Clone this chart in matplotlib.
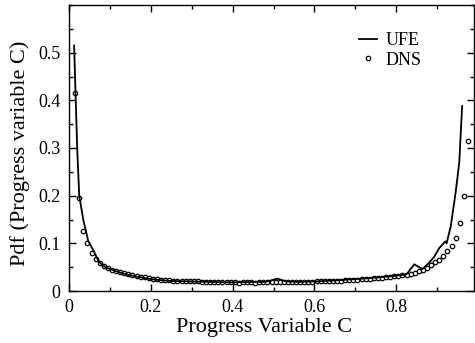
import numpy as np
import matplotlib
matplotlib.use("Agg")
import matplotlib.pyplot as plt
from matplotlib.ticker import MultipleLocator, FuncFormatter

plt.rcParams['font.family'] = ['Liberation Serif', 'DejaVu Serif']
plt.rcParams['mathtext.fontset'] = 'stix'

# UFE model curve
ufe_c = [0.0125, 0.02, 0.025, 0.035, 0.047, 0.059, 0.071, 0.08, 0.09, 0.10,
         0.12, 0.14, 0.16, 0.18, 0.20, 0.22, 0.25, 0.30, 0.35, 0.40,
         0.45, 0.48, 0.51, 0.53, 0.56, 0.60, 0.65, 0.70, 0.75, 0.80,
         0.825, 0.844, 0.864, 0.88, 0.893, 0.905, 0.92, 0.923, 0.933, 0.945,
         0.954, 0.961]
ufe_pdf = [0.515, 0.30, 0.20, 0.149, 0.105, 0.086, 0.065, 0.055, 0.050, 0.046,
           0.040, 0.035, 0.031, 0.028, 0.025, 0.023, 0.021, 0.020, 0.019, 0.018,
           0.019, 0.019, 0.026, 0.020, 0.019, 0.020, 0.022, 0.025, 0.028, 0.032,
           0.035, 0.056, 0.046, 0.059, 0.072, 0.090, 0.104, 0.100, 0.135, 0.206,
           0.270, 0.388]

# DNS samples (bin centres 0.015 ... 0.975)
dns_c = np.round(np.arange(0.015, 0.9751, 0.01), 3)
dns_pdf = [0.415, 0.196, 0.126, 0.100, 0.079, 0.067, 0.058, 0.052, 0.048, 0.045,
           0.042, 0.040, 0.037, 0.035, 0.033, 0.031, 0.030, 0.029, 0.028, 0.026,
           0.025, 0.024, 0.024, 0.023, 0.022, 0.022, 0.021, 0.021, 0.020, 0.020,
           0.020, 0.019, 0.019, 0.019, 0.018, 0.019, 0.018, 0.018, 0.018, 0.018,
           0.017, 0.018, 0.018, 0.018, 0.017, 0.018, 0.018, 0.018, 0.018, 0.019,
           0.018, 0.018, 0.018, 0.019, 0.018, 0.019, 0.019, 0.019, 0.019, 0.020,
           0.020, 0.020, 0.021, 0.021, 0.022, 0.022, 0.023, 0.023, 0.024, 0.024,
           0.025, 0.025, 0.026, 0.027, 0.027, 0.028, 0.029, 0.030, 0.031, 0.032,
           0.033, 0.034, 0.036, 0.038, 0.041, 0.044, 0.049, 0.055, 0.060, 0.066,
           0.073, 0.083, 0.094, 0.112, 0.143, 0.200, 0.314]

fig = plt.figure(figsize=(4.75, 3.43), dpi=100)
ax = fig.add_axes([69/475, 1 - 291/343, (474 - 69)/475, (291 - 5)/343])

ax.plot(ufe_c, ufe_pdf, color='black', lw=1.3, label='UFE', zorder=3)
ax.plot(dns_c, dns_pdf, linestyle='none', marker='o', markersize=3.2,
        markerfacecolor='white', markeredgecolor='black', markeredgewidth=0.9,
        label='DNS', zorder=2)

ax.set_xlim(0, 0.99)
ax.set_ylim(0, 0.6)
ax.xaxis.set_major_locator(MultipleLocator(0.2))
ax.xaxis.set_minor_locator(MultipleLocator(0.1))
ax.yaxis.set_major_locator(MultipleLocator(0.1))
ax.yaxis.set_minor_locator(MultipleLocator(0.05))

fmt = FuncFormatter(lambda v, p: '0' if abs(v) < 1e-9 else f'{v:.1f}')
ax.xaxis.set_major_formatter(fmt)
ax.yaxis.set_major_formatter(fmt)
ax.set_yticks([0, 0.1, 0.2, 0.3, 0.4, 0.5])

ax.tick_params(which='both', direction='in', top=True, right=True,
               labelsize=13, width=1.0)
ax.tick_params(which='major', length=5, pad=6)
ax.tick_params(which='minor', length=3)
for s in ax.spines.values():
    s.set_linewidth(1.0)

ax.set_xlabel('Progress Variable C', fontsize=16)
ax.set_ylabel('Pdf (Progress variable C)', fontsize=16)
ax.xaxis.set_label_coords(0.482, -0.095)
ax.yaxis.set_label_coords(-0.097, 0.483)

ax.legend(loc='upper left', bbox_to_anchor=(359/475, 1 - 32/343),
          bbox_transform=fig.transFigure, frameon=False, fontsize=13,
          handlelength=1.0, handletextpad=0.45, labelspacing=0.15,
          borderpad=0, borderaxespad=0)

fig.savefig('out.png', dpi=100)
